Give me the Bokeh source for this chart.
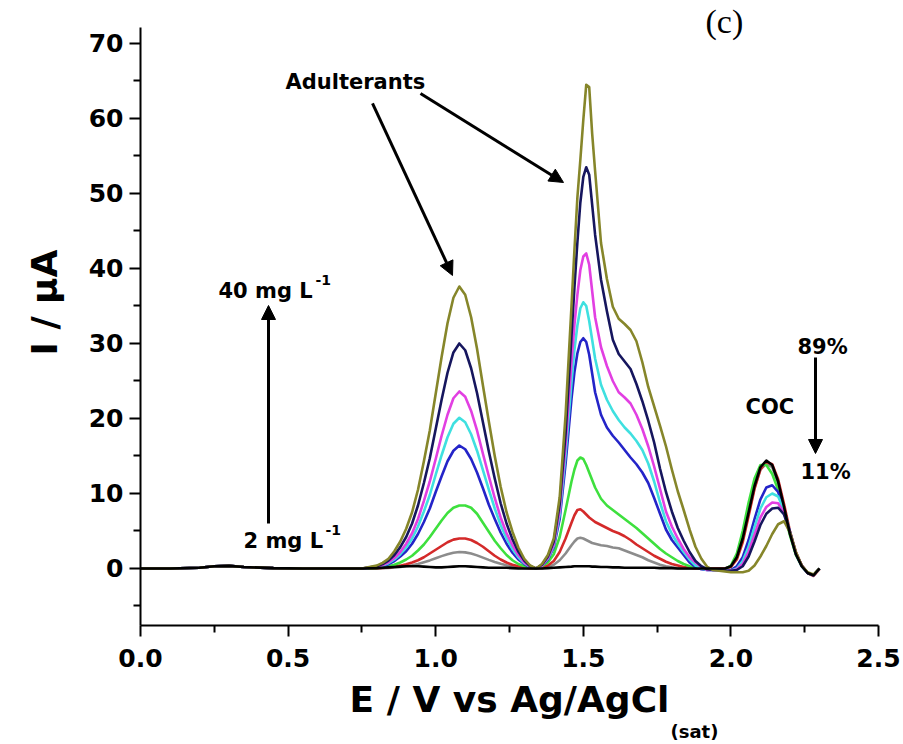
from bokeh.plotting import figure
from bokeh.models import Range1d, Label, Arrow, NormalHead, FixedTicker, Title
from bokeh.embed import file_html
from bokeh.resources import INLINE

# ---------------- data ----------------
E_base = [0.00, 0.10, 0.20, 0.25, 0.30, 0.35, 0.45, 0.55, 0.65, 0.75]
I_base = [0.0, 0.0, 0.1, 0.3, 0.35, 0.2, 0.05, 0.0, 0.0, 0.0]

E = [0.80, 0.82, 0.84, 0.86, 0.88, 0.90, 0.92, 0.94, 0.96, 0.98, 1.00, 1.02, 1.04, 1.06,
     1.08, 1.10, 1.12, 1.14, 1.16, 1.18, 1.20, 1.22, 1.24, 1.26, 1.28, 1.30, 1.32, 1.34,
     1.36, 1.38, 1.40, 1.42, 1.44, 1.46, 1.47, 1.48, 1.49, 1.50, 1.51, 1.52, 1.53, 1.54,
     1.56, 1.58, 1.60, 1.62, 1.64, 1.66, 1.68, 1.70, 1.72, 1.74, 1.76, 1.78, 1.80, 1.82,
     1.84, 1.86, 1.88, 1.90, 1.92, 1.94,
     1.96, 1.98, 2.00, 2.02, 2.04, 2.06, 2.08, 2.10, 2.12, 2.14, 2.16, 2.18, 2.20, 2.22,
     2.24, 2.26, 2.28, 2.30]

I_olive = [0.38, 0.75, 1.3, 2.3, 3.6, 5.3, 7.5, 10.5, 14.3, 18.4, 23.3, 28.2, 32.7, 36.1,
           37.6, 36.5, 33.5, 29.3, 24.4, 19.6, 15.0, 10.9, 7.5, 4.9, 2.8, 1.3, 0.4, 0.0,
           0.6, 1.8, 4.0, 9.5, 20.5, 35.0, 42.5, 49.5, 54.5, 59.8, 64.5, 64.2, 58.0, 53.0,
           43.4, 38.6, 34.9, 33.3, 32.6, 31.8, 30.3, 27.5, 24.2, 21.6, 19.0, 16.3, 13.2, 10.3,
           7.8, 5.2, 2.9, 1.3, 0.2, -0.2,
           -0.3, -0.4, -0.5, -0.5, -0.5, -0.3, 0.4, 1.6, 3.0, 4.6, 5.9, 6.3, 4.8, 2.2,
           0.4, -0.5, -0.8, 0.0]
I_navy = [0.3, 0.6, 1.05, 1.8, 2.85, 4.2, 6.0, 8.4, 11.4, 14.7, 18.6, 22.5, 26.1, 28.8,
          30.0, 29.1, 26.7, 23.4, 19.5, 15.6, 12.0, 8.7, 6.0, 3.9, 2.25, 1.05, 0.3, 0.0,
          0.5, 1.6, 3.6, 8.6, 18.0, 31.0, 37.5, 43.5, 48.8, 52.2, 53.5, 52.5, 48.5, 44.5,
          38.5, 34.3, 30.5, 28.6, 27.6, 26.6, 24.6, 22.3, 19.7, 16.8, 13.3, 10.2, 7.6, 5.4,
          3.7, 2.2, 1.0, 0.3, -0.1, -0.2,
          -0.2, -0.3, -0.3, -0.2, 0.3, 1.6, 3.6, 5.8, 7.3, 8.0, 8.1, 7.2, 4.9, 2.1,
          0.4, -0.6, -0.9, 0.0]
I_magenta = [0.24, 0.47, 0.83, 1.4, 2.2, 3.3, 4.7, 6.6, 9.0, 11.6, 14.6, 17.7, 20.5, 22.7,
             23.6, 22.9, 21.0, 18.4, 15.3, 12.3, 9.4, 6.8, 4.7, 3.1, 1.8, 0.8, 0.24, 0.0,
             0.4, 1.4, 3.2, 7.8, 16.5, 27.5, 32.5, 36.5, 39.8, 41.6, 42.0, 40.5, 37.0, 33.5,
             29.5, 27.0, 25.0, 23.5, 22.8, 22.0, 20.5, 18.6, 16.3, 13.6, 10.6, 7.6, 5.6, 4.0,
             2.6, 1.5, 0.8, 0.2, -0.2, -0.2,
             -0.2, -0.3, -0.3, -0.1, 0.6, 2.2, 4.5, 6.8, 8.2, 8.8, 8.7, 7.4, 4.9, 2.1,
             0.4, -0.6, -0.9, 0.0]
I_cyan = [0.2, 0.4, 0.7, 1.2, 1.9, 2.8, 4.0, 5.6, 7.6, 9.8, 12.5, 15.1, 17.5, 19.3,
          20.1, 19.5, 17.9, 15.7, 13.1, 10.5, 8.0, 5.8, 4.0, 2.6, 1.5, 0.7, 0.2, 0.0,
          0.4, 1.3, 3.0, 7.2, 15.2, 24.8, 29.2, 32.4, 34.7, 35.5, 35.0, 33.0, 30.5, 28.0,
          24.5, 22.5, 21.0, 19.8, 18.8, 18.0, 17.0, 15.8, 14.0, 11.6, 8.8, 6.3, 4.6, 3.3,
          2.2, 1.2, 0.4, 0.0, -0.2, -0.2,
          -0.2, -0.3, -0.3, 0.0, 1.0, 2.9, 5.5, 8.0, 9.5, 10.0, 9.6, 7.8, 4.9, 2.0,
          0.3, -0.6, -0.9, 0.0]
I_blue = [0.16, 0.33, 0.57, 1.0, 1.6, 2.3, 3.3, 4.6, 6.2, 8.0, 10.2, 12.3, 14.3, 15.7,
          16.4, 15.9, 14.6, 12.8, 10.7, 8.5, 6.6, 4.8, 3.3, 2.1, 1.2, 0.6, 0.16, 0.0,
          0.4, 1.2, 2.8, 6.6, 14.0, 22.6, 26.2, 28.7, 30.2, 30.7, 30.2, 28.5, 26.0, 23.5,
          20.5, 18.8, 17.7, 16.8, 15.8, 14.8, 13.9, 12.8, 11.4, 9.4, 7.3, 5.2, 3.8, 2.8,
          1.8, 0.8, 0.2, -0.1, -0.2, -0.2,
          -0.2, -0.3, -0.2, 0.3, 1.5, 3.8, 6.6, 9.2, 10.8, 11.1, 10.2, 7.9, 4.8, 2.0,
          0.3, -0.6, -0.9, 0.0]
I_green = [0.08, 0.17, 0.3, 0.5, 0.8, 1.2, 1.7, 2.4, 3.2, 4.2, 5.3, 6.4, 7.4, 8.1,
           8.4, 8.4, 8.1, 7.3, 6.1, 4.9, 3.7, 2.7, 1.8, 1.1, 0.6, 0.3, 0.1, 0.0,
           0.3, 0.8, 1.9, 4.2, 7.8, 11.6, 13.2, 14.4, 14.8, 14.6, 13.8, 12.8, 11.8, 10.8,
           9.3, 8.4, 7.8, 7.2, 6.6, 6.0, 5.4, 4.7, 4.0, 3.3, 2.6, 2.0, 1.5, 1.0,
           0.6, 0.3, 0.1, 0.0, -0.1, -0.1,
           -0.1, -0.1, 0.4, 2.0, 5.0, 8.8, 12.0, 13.8, 13.8, 12.6, 10.5, 7.6, 4.4, 1.8,
           0.3, -0.6, -0.9, 0.0]
I_red = [0.04, 0.08, 0.14, 0.24, 0.38, 0.56, 0.8, 1.1, 1.5, 2.0, 2.5, 3.0, 3.5, 3.85,
         4.0, 4.0, 3.8, 3.4, 2.9, 2.3, 1.7, 1.2, 0.8, 0.5, 0.3, 0.15, 0.05, 0.0,
         0.15, 0.4, 1.0, 2.2, 4.0, 6.1, 7.1, 7.8, 7.9, 7.6, 7.2, 6.8, 6.5, 6.2,
         5.8, 5.4, 5.0, 4.7, 4.3, 3.8, 3.2, 2.7, 2.2, 1.7, 1.3, 0.9, 0.6, 0.4,
         0.2, 0.1, 0.0, 0.0, 0.0, 0.0,
         0.0, 0.0, 0.2, 1.2, 3.5, 7.0, 10.6, 13.2, 14.2, 13.9, 11.9, 8.6, 5.0, 2.2,
         0.4, -0.6, -1.0, -0.1]
I_gray = [0.02, 0.04, 0.08, 0.13, 0.2, 0.3, 0.44, 0.6, 0.84, 1.08, 1.36, 1.65, 1.9, 2.1,
          2.2, 2.15, 2.0, 1.75, 1.45, 1.15, 0.88, 0.64, 0.44, 0.28, 0.16, 0.08, 0.03, 0.0,
          0.05, 0.2, 0.5, 1.1, 2.0, 3.1, 3.6, 4.0, 4.1, 4.0, 3.8, 3.6, 3.4, 3.3,
          3.1, 3.0, 2.8, 2.7, 2.4, 2.1, 1.8, 1.5, 1.1, 0.8, 0.5, 0.3, 0.15, 0.05,
          0.0, 0.0, 0.0, 0.0, 0.0, 0.0,
          0.0, 0.0, 0.3, 1.4, 3.8, 7.3, 10.8, 13.2, 14.0, 13.5, 11.4, 8.1, 4.6, 1.9,
          0.3, -0.6, -0.9, 0.0]
I_black = [0.05, 0.1, 0.15, 0.2, 0.25, 0.3, 0.3, 0.3, 0.25, 0.2, 0.15, 0.15, 0.2, 0.25,
           0.3, 0.3, 0.25, 0.2, 0.15, 0.1, 0.1, 0.1, 0.1, 0.05, 0.0, 0.0, 0.0, 0.0,
           0.0, 0.05, 0.1, 0.15, 0.2, 0.25, 0.3, 0.3, 0.3, 0.3, 0.3, 0.3, 0.25, 0.25,
           0.2, 0.2, 0.15, 0.15, 0.1, 0.1, 0.1, 0.1, 0.1, 0.1, 0.05, 0.05, 0.05, 0.0,
           0.0, 0.0, 0.0, 0.0, 0.0, 0.0,
           0.0, 0.0, 0.3, 1.5, 4.0, 7.5, 11.0, 13.5, 14.4, 13.8, 11.6, 8.2, 4.6, 1.9,
           0.3, -0.6, -0.9, 0.0]

series = [
    ("gray", I_gray, "#8c8c8c"),
    ("red", I_red, "#d42a2a"),
    ("green", I_green, "#3ee03e"),
    ("blue", I_blue, "#2424c8"),
    ("cyan", I_cyan, "#3fe0e0"),
    ("magenta", I_magenta, "#e23fe2"),
    ("navy", I_navy, "#16165e"),
    ("olive", I_olive, "#86862a"),
    ("black", I_black, "#000000"),
]

x_ticks = [0.0, 0.5, 1.0, 1.5, 2.0, 2.5]
y_ticks = [0, 10, 20, 30, 40, 50, 60, 70]

# ---------------- figure ----------------
FONT = "DejaVu Sans"
p = figure(frame_width=738, frame_height=598, output_backend="svg",
           toolbar_location=None, x_range=Range1d(0, 2.5),
           y_range=Range1d(-7.6, 72.13),
           min_border_left=140, min_border_right=25,
           min_border_top=27, min_border_bottom=119)
p.outline_line_color = None
p.grid.visible = False
p.background_fill_color = "white"
p.border_fill_color = "white"

for name, ys, col in series:
    p.line(E_base + E, I_base + ys, line_color=col, line_width=2.6, line_join="round")

for ax in (p.xaxis[0], p.yaxis[0]):
    ax.axis_line_width = 2
    ax.major_tick_line_width = 2
    ax.minor_tick_line_width = 2
    ax.major_tick_in = 0
    ax.minor_tick_in = 0
    ax.major_tick_out = 11
    ax.minor_tick_out = 7
    ax.major_label_text_font = FONT
    ax.major_label_text_font_style = "bold"
    ax.major_label_text_font_size = "25px"
    ax.major_label_text_color = "black"
    ax.major_label_standoff = 6

p.xaxis.major_label_standoff = 12
p.xaxis.ticker = FixedTicker(ticks=x_ticks, minor_ticks=[0.25, 0.75, 1.25, 1.75, 2.25])
p.yaxis.ticker = FixedTicker(ticks=y_ticks, minor_ticks=[-5, 5, 15, 25, 35, 45, 55, 65])
p.xaxis.major_label_overrides = {t: f"{t:.1f}" for t in x_ticks}

# panel label and axis titles as side titles
p.add_layout(Title(text="(c)", align="left", offset=565, standoff=-25,
                   text_font="Liberation Serif", text_font_style="normal",
                   text_font_size="34px", text_color="black"), "above")
p.add_layout(Title(text="I / \u03bcA", align="left", offset=270, standoff=41,
                   text_font=FONT, text_font_style="bold", text_font_size="36px",
                   text_color="black"), "left")
p.add_layout(Title(text="E / V vs Ag/AgCl", align="center", standoff=15,
                   text_font=FONT, text_font_style="bold", text_font_size="36px",
                   text_color="black"), "below")
p.add_layout(Title(text="(sat)", align="left", offset=530, standoff=-18,
                   text_font=FONT, text_font_style="bold", text_font_size="18px",
                   text_color="black"), "below")


def lab(x, y, text, size, align="left", baseline="middle", font=FONT, style="bold"):
    p.add_layout(Label(x=x, y=y, text=text, text_font=font, text_font_style=style,
                       text_font_size=size, text_align=align, text_baseline=baseline,
                       text_color="black"))


def px_x(xi):
    return (xi - 140) / 295.2


def px_y(yi):
    return (568 - yi) / 7.5


# annotations
lab(px_x(285), px_y(82), "Adulterants", "21px")
lab(px_x(218), px_y(291), "40 mg L", "21px", baseline="alphabetic")
lab(px_x(315), px_y(280), "-1", "14px", baseline="alphabetic")
lab(px_x(243), px_y(541), "2 mg L", "21px", baseline="alphabetic")
lab(px_x(325), px_y(530), "-1", "14px", baseline="alphabetic")
lab(px_x(797), px_y(347), "89%", "21px")
lab(px_x(745), px_y(407), "COC", "21px")
lab(px_x(800), px_y(472), "11%", "21px")


def arrow(x0, y0, x1, y1):
    p.add_layout(Arrow(end=NormalHead(size=14, fill_color="black", line_color="black"),
                       x_start=px_x(x0), y_start=px_y(y0), x_end=px_x(x1), y_end=px_y(y1),
                       line_width=3, line_color="black"))


arrow(372, 103, 452, 275)
arrow(420, 93, 563, 182)
arrow(268, 523, 268, 305)
arrow(815, 357, 815, 453)

open("out.html", "w").write(file_html(p, INLINE))
